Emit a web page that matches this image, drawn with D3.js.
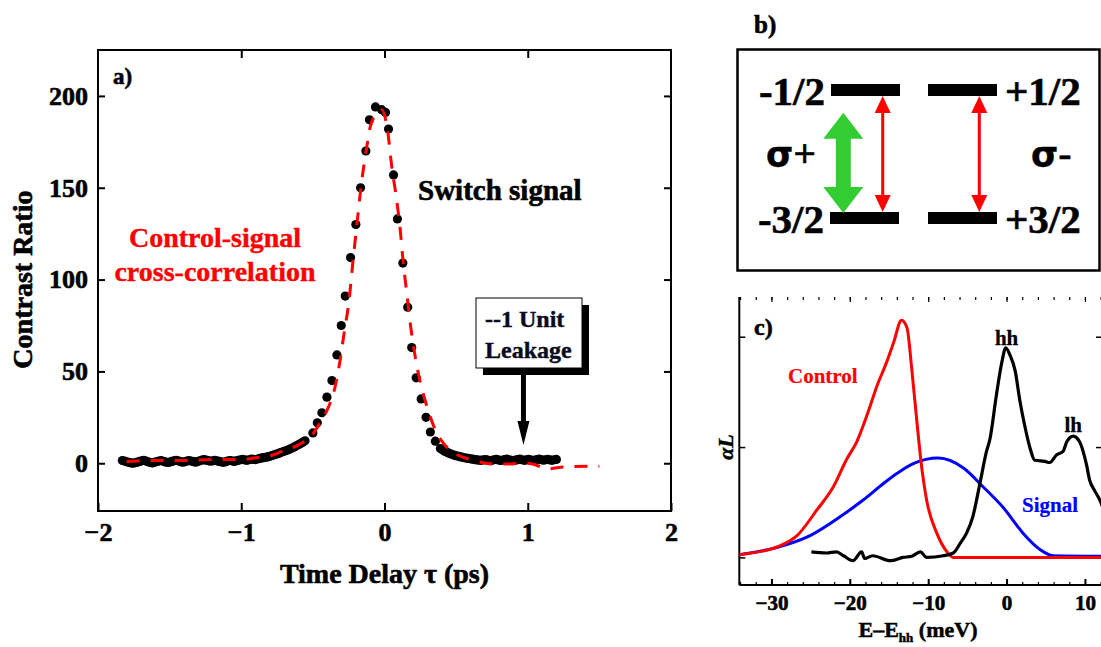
<!DOCTYPE html>
<html>
<head>
<meta charset="utf-8">
<script src="https://cdn.jsdelivr.net/npm/d3@7"></script>
<style>
body { margin: 0; background: #fff; }
svg text { font-family: "Liberation Serif", "Times New Roman", serif; font-weight: bold; }
</style>
</head>
<body>
<div id="chart"></div>
<script>
// ---- Panel a: switch signal (dots) and control-signal cross-correlation (dashed)
// dense baseline before the peak, sampled every 0.015 ps from -1.83 ps
const leftStart = -1.83, leftStep = 0.015;
const leftRatio = [
  1.5,1.2,0.8,0.5,0.2,0,0.3,0.6,1,1.3,
  1.6,1.2,0.8,0.4,0.2,0.5,0.9,1.2,1.5,1.1,
  0.7,0.4,0.6,1,1.3,1.6,1.3,0.9,0.6,0.8,
  1.2,1.5,1.2,0.9,0.6,0.9,1.3,1.7,2,1.7,
  1.4,1.1,1.3,1.6,1.3,1,0.7,0.5,0.8,1.2,
  1.5,1.3,1,1.3,1.6,1.9,2.1,1.8,1.6,1.9,
  2.2,2.1,2,2.3,2.6,2.9,3.1,3.3,3.6,3.9,
  4.3,4.7,5.1,5.5,6,6.4,6.8,7.2,7.7,8.3,
  8.9,9.5,10.1,10.8,11.5,12.2
];
// separate dots around the peak
const peakDelay = [-0.50,-0.469,-0.437,-0.402,-0.367,-0.332,-0.302,-0.274,-0.237,-0.20,-0.167,-0.13,-0.105,-0.063,-0.02,0.007,0.028,0.063,0.09,0.128,
  0.162,0.19,0.221,0.256,0.29,0.32,0.355];
const peakRatio = [16.5,22,27.5,36,45,59,75,91,112,130,150,170,187,194,192.5,191,182,157,133,109,
  85,63,46.5,35,25,17,12];
// dense baseline after the peak, every 0.015 ps from 0.39 ps
const rightStart = 0.39, rightStep = 0.015;
const rightRatio = [
  8,7.3,6.6,6,5.5,5,4.6,4.2,3.9,3.6,
  3.3,3,2.8,2.6,2.4,2.2,2,1.8,1.7,1.6,
  1.8,2,1.7,1.4,1.6,1.9,2.1,1.8,1.5,1.7,
  2,2.2,1.9,1.6,1.4,1.7,2,2.2,1.9,1.6,
  1.8,2.1,1.8,1.5,1.7,2,2.2,1.9,1.7,1.9,
  2.1,1.8,1.6,1.9,2.1
];
const fitDelay = [-1.8,-1.6,-1.4,-1.2,-1.0,-0.9,-0.8,-0.7,-0.6,-0.5,-0.45,-0.4,-0.35,-0.31,-0.28,-0.25,-0.22,-0.19,-0.16,-0.13,
  -0.10,-0.06,-0.02,0.02,0.05,0.08,0.11,0.13,0.155,0.18,0.21,0.25,0.3,0.35,0.4,0.5,0.6,0.8,1.0,1.15,1.25,1.5];
const fitRatio = [1,1.5,1.5,2,2,3,4,7,10,16,22,29,40,56,72,87,110,132,153,169,
  183,190,192.5,182,162,146,127,110,93,76,60,44,30,19,12,5,2,-0.5,0,-3,-2,-1.6];
const delayTicks = [-2, -1, 0, 1, 2];
const ratioTicks = [0, 50, 100, 150, 200];

// ---- Panel c: absorption and pulse spectra
const ctrlE = [-34.1,-29.1,-26.7,-24.2,-22.1,-20.4,-19.1,-17.8,-16.5,-15.3,-14.4,-13.4,-12.7,-12.1,-11.4,-10.8,-10.2,-8.9,-7.6,-6.8,0,12.2];
const ctrlA = [0.025,0.1,0.2,0.43,0.64,0.89,1.05,1.29,1.56,1.77,1.95,2.15,2.08,1.71,1.2,0.8,0.52,0.22,0.05,0,0,0];
const sigE = [-34.1,-28.8,-25,-21.2,-18.3,-15.7,-14,-11.9,-8.7,-5.5,-3,-0.4,2.1,4.3,6,12.2];
const sigA = [0.025,0.1,0.2,0.37,0.52,0.67,0.76,0.85,0.9,0.81,0.64,0.45,0.22,0.07,0.015,0.01];
const absE = [-24.9,-23,-21.7,-20.8,-19.6,-18.5,-18.1,-17.1,-14.8,-13.2,-12.1,-11,-10.2,-8.1,-6.8,-5.9,-5.1,-4.3,-3.4,-2.6,
  -2.1,-1.3,-0.6,-0.1,0.4,1.1,1.7,2.3,3,3.6,4.9,5.5,6.4,7.2,7.7,8.5,9.3,10.2,10.6,11.2,11.9,12.3];
const absA = [0.05,0.04,0.05,0.015,-0.03,0.05,-0.01,0.015,-0.03,0,0.01,0.05,0,0.015,0.04,0.13,0.22,0.37,0.67,0.95,
  1.08,1.47,1.77,1.9,1.84,1.69,1.42,1.2,0.99,0.88,0.87,0.86,0.93,0.96,1.05,1.1,1.05,0.84,0.7,0.61,0.52,0.45];
const energyTicks = [-30, -20, -10, 0, 10];
const energyMinor = d3.range(-34, 13, 2);
const absTicks = [0, 1, 2];

const svg = d3.select("#chart").append("svg")
  .attr("width", 1101).attr("height", 647)
  .style("background", "#fff");

// heavier look for the bitmap-like bold serif text
const heavy = (sel, color = "#000", w = 0.6) => sel.attr("fill", color).attr("stroke", color).attr("stroke-width", w);

// ================= Panel a =================
const xA = d3.scaleLinear().domain([-2, 2]).range([98, 671]);
const yA = d3.scaleLinear().domain([-26, 225]).range([511, 50]);

svg.append("rect")
  .attr("x", xA(-2)).attr("y", yA(225))
  .attr("width", xA(2) - xA(-2)).attr("height", yA(-26) - yA(225))
  .attr("fill", "none").attr("stroke", "#000").attr("stroke-width", 2);

const styleAxis = (g, size) => {
  g.select(".domain").remove();
  g.attr("font-family", null).attr("font-size", size);
  g.selectAll("line").attr("stroke", "#000").attr("stroke-width", 2);
  g.selectAll("text").call(heavy);
};

svg.append("g").attr("transform", `translate(${xA(-2)},0)`)
  .call(d3.axisLeft(yA).tickValues(ratioTicks).tickSizeInner(-7).tickSizeOuter(0).tickPadding(10))
  .call(g => styleAxis(g, 26));
svg.append("g").attr("transform", `translate(${xA(2)},0)`)
  .call(d3.axisRight(yA).tickValues(ratioTicks).tickSizeInner(-7).tickSizeOuter(0).tickFormat(""))
  .call(g => styleAxis(g, 26));
svg.append("g").attr("transform", `translate(0,${yA(-26)})`)
  .call(d3.axisBottom(xA).tickValues(delayTicks).tickSizeInner(-8).tickSizeOuter(0).tickPadding(12).tickFormat(d3.format("d")))
  .call(g => styleAxis(g, 26));
svg.append("g").attr("transform", `translate(0,${yA(225)})`)
  .call(d3.axisTop(xA).tickValues([-1, 0, 1]).tickSizeInner(-8).tickSizeOuter(0).tickFormat(""))
  .call(g => styleAxis(g, 26));

svg.append("text").attr("x", xA(0)).attr("y", 583).attr("text-anchor", "middle")
  .attr("font-size", 28).text("Time Delay τ (ps)").call(heavy);
svg.append("text").attr("transform", `translate(32,${yA(100)}) rotate(-90)`).attr("text-anchor", "middle")
  .attr("font-size", 28).text("Contrast Ratio").call(heavy);
svg.append("text").attr("x", 113).attr("y", 84).attr("font-size", 23).text("a)").call(heavy);

// data dots
const dots = [
  ...leftRatio.map((v, i) => [leftStart + i * leftStep, v]),
  ...peakDelay.map((d, i) => [d, peakRatio[i]]),
  ...rightRatio.map((v, i) => [rightStart + i * rightStep, v])
];
svg.append("g").selectAll("circle").data(dots).join("circle")
  .attr("cx", d => xA(d[0])).attr("cy", d => yA(d[1])).attr("r", 4.6).attr("fill", "#000");

// dashed fit
const fit = fitDelay.map((d, i) => [d, fitRatio[i]]);
svg.append("path").datum(fit)
  .attr("d", d3.line().x(d => xA(d[0])).y(d => yA(d[1])).curve(d3.curveMonotoneX))
  .attr("fill", "none").attr("stroke", "#ff0000").attr("stroke-width", 3)
  .attr("stroke-dasharray", "13,11");

svg.append("text").attr("x", 418).attr("y", 200).attr("font-size", 29).text("Switch signal").call(heavy);
svg.append("text").attr("x", 215).attr("y", 247).attr("text-anchor", "middle")
  .attr("font-size", 28).text("Control-signal").call(heavy, "#ff0000", 0.4);
svg.append("text").attr("x", 215).attr("y", 281).attr("text-anchor", "middle")
  .attr("font-size", 28).text("cross-correlation").call(heavy, "#ff0000", 0.4);

// leakage callout
const boxX = 476, boxY = 298, boxW = 106, boxH = 70;
svg.append("rect").attr("x", boxX + 7).attr("y", boxY + 7).attr("width", boxW).attr("height", boxH).attr("fill", "#000");
svg.append("rect").attr("x", boxX).attr("y", boxY).attr("width", boxW).attr("height", boxH)
  .attr("fill", "#fff").attr("stroke", "#000").attr("stroke-width", 1);
svg.append("text").attr("x", boxX + 9).attr("y", 327).attr("font-size", 24).text("--1 Unit").call(heavy, "#0a0a1e", 0.4);
svg.append("text").attr("x", boxX + 9).attr("y", 358).attr("font-size", 24).text("Leakage").call(heavy, "#0a0a1e", 0.4);
const arrX = xA(0.97);
svg.append("line").attr("x1", arrX).attr("x2", arrX).attr("y1", boxY + boxH + 7).attr("y2", yA(20))
  .attr("stroke", "#000").attr("stroke-width", 5);
svg.append("path")
  .attr("d", `M${arrX - 6},${yA(23)} L${arrX + 6},${yA(23)} L${arrX},${yA(10)} Z`)
  .attr("fill", "#000");

// ================= Panel b =================
const gb = svg.append("g");
gb.append("text").attr("x", 754).attr("y", 33).attr("font-size", 25).text("b)").call(heavy);
gb.append("rect").attr("x", 737.5).attr("y", 49.5).attr("width", 362).attr("height", 221)
  .attr("fill", "none").attr("stroke", "#000").attr("stroke-width", 2.5);

const levels = [
  { x: 831, y: 90, w: 69, label: "-1/2", side: "left" },
  { x: 928, y: 90, w: 69, label: "+1/2", side: "right" },
  { x: 830, y: 218, w: 69, label: "-3/2", side: "left" },
  { x: 928, y: 218, w: 69, label: "+3/2", side: "right" }
];
levels.forEach(l => {
  gb.append("rect").attr("x", l.x).attr("y", l.y - 6).attr("width", l.w).attr("height", 12).attr("fill", "#000");
  gb.append("text")
    .attr("x", l.side === "left" ? l.x - 6 : l.x + l.w + 8)
    .attr("y", l.y + 15)
    .attr("text-anchor", l.side === "left" ? "end" : "start")
    .attr("font-size", 41).text(l.label).call(heavy);
});

// green thick double arrow
const gx = 843.3, gTop = 112.7, gBot = 213;
gb.append("path")
  .attr("d", `M${gx},${gTop} L${gx + 20},${gTop + 26} L${gx + 7.5},${gTop + 26} L${gx + 7.5},${gBot - 26}
    L${gx + 20},${gBot - 26} L${gx},${gBot} L${gx - 20},${gBot - 26} L${gx - 7.5},${gBot - 26}
    L${gx - 7.5},${gTop + 26} L${gx - 20},${gTop + 26} Z`)
  .attr("fill", "#33cc33");

// red thin double arrows
[882.7, 979.3].forEach(rx => {
  gb.append("line").attr("x1", rx).attr("x2", rx).attr("y1", 110).attr("y2", 198)
    .attr("stroke", "#ff0000").attr("stroke-width", 3);
  gb.append("path").attr("d", `M${rx},96 L${rx + 8},113 L${rx - 8},113 Z`).attr("fill", "#ff0000");
  gb.append("path").attr("d", `M${rx},212 L${rx + 8},195 L${rx - 8},195 Z`).attr("fill", "#ff0000");
});

gb.append("text").attr("x", 766).attr("y", 167).attr("font-size", 40)
  .html('<tspan font-family="DejaVu Sans" font-size="35">σ</tspan>+').call(heavy, "#000", 0.4);
gb.append("text").attr("x", 1031).attr("y", 167).attr("font-size", 40)
  .html('<tspan font-family="DejaVu Sans" font-size="35">σ</tspan>-').call(heavy, "#000", 0.4);

// ================= Panel c =================
const xC = d3.scaleLinear().domain([-34.1, 12.05]).range([739.3, 1101]);
const yC = d3.scaleLinear().domain([-0.25, 2.36]).range([585, 297]);

svg.append("defs").append("clipPath").attr("id", "clipC")
  .append("rect").attr("x", xC(-34.1)).attr("y", yC(2.36)).attr("width", xC(12.05) - xC(-34.1)).attr("height", yC(-0.25) - yC(2.36));

svg.append("line").attr("x1", xC(-34.1)).attr("x2", xC(-34.1)).attr("y1", yC(2.36)).attr("y2", yC(-0.25))
  .attr("stroke", "#000").attr("stroke-width", 2);
svg.append("line").attr("x1", xC(-34.1)).attr("x2", xC(12.05)).attr("y1", yC(-0.25)).attr("y2", yC(-0.25))
  .attr("stroke", "#000").attr("stroke-width", 2);

svg.append("g").attr("transform", `translate(0,${yC(-0.25)})`)
  .call(d3.axisBottom(xC).tickValues(energyTicks).tickSizeInner(-6).tickSizeOuter(0).tickPadding(10).tickFormat(d3.format("d")))
  .call(g => styleAxis(g, 21));
svg.append("g").attr("transform", `translate(0,${yC(-0.25)})`)
  .call(d3.axisBottom(xC).tickValues(energyMinor).tickSizeInner(-3).tickSizeOuter(0).tickFormat(""))
  .call(g => styleAxis(g, 21))
  .call(g => g.selectAll("line").attr("stroke-width", 1.2));
svg.append("g").attr("transform", `translate(0,${yC(2.36)})`)
  .call(d3.axisTop(xC).tickValues(energyMinor).tickSizeInner(-3).tickSizeOuter(0).tickFormat(""))
  .call(g => styleAxis(g, 21))
  .call(g => g.selectAll("line").attr("stroke-width", 1.2));
svg.append("g").attr("transform", `translate(0,${yC(2.36)})`)
  .call(d3.axisTop(xC).tickValues(energyTicks).tickSizeInner(-5).tickSizeOuter(0).tickFormat(""))
  .call(g => styleAxis(g, 21))
  .call(g => g.selectAll("line").attr("stroke-width", 1.2));
svg.append("g").attr("transform", `translate(${xC(-34.1)},0)`)
  .call(d3.axisLeft(yC).tickValues(absTicks).tickSizeInner(-6).tickSizeOuter(0).tickFormat(""))
  .call(g => styleAxis(g, 21))
  .call(g => g.selectAll("line").attr("stroke-width", 1.5));
svg.append("g").attr("transform", `translate(${xC(12.05)},0)`)
  .call(d3.axisRight(yC).tickValues(absTicks).tickSizeInner(-5).tickSizeOuter(0).tickFormat(""))
  .call(g => styleAxis(g, 21))
  .call(g => g.selectAll("line").attr("stroke-width", 1.5));

const lineC = d3.line().x(d => xC(d[0])).y(d => yC(d[1])).curve(d3.curveMonotoneX);
const gc = svg.append("g").attr("clip-path", "url(#clipC)");
gc.append("path").datum(sigE.map((e, i) => [e, sigA[i]])).attr("d", lineC)
  .attr("fill", "none").attr("stroke", "#0000ff").attr("stroke-width", 3);
gc.append("path").datum(ctrlE.map((e, i) => [e, ctrlA[i]])).attr("d", lineC)
  .attr("fill", "none").attr("stroke", "#ff0000").attr("stroke-width", 3);
gc.append("path").datum(absE.map((e, i) => [e, absA[i]])).attr("d", lineC)
  .attr("fill", "none").attr("stroke", "#000").attr("stroke-width", 3.2);

svg.append("text").attr("x", 754).attr("y", 335).attr("font-size", 24).text("c)").call(heavy);
svg.append("text").attr("x", 788).attr("y", 383).attr("font-size", 21).text("Control").call(heavy, "#ff0000", 0.2);
svg.append("text").attr("x", 1022).attr("y", 512).attr("font-size", 21).text("Signal").call(heavy, "#0000ff", 0.2);
svg.append("text").attr("x", xC(0)).attr("y", 345).attr("text-anchor", "middle").attr("font-size", 21).text("hh").call(heavy, "#000", 0.3);
svg.append("text").attr("x", xC(8.5)).attr("y", 432).attr("text-anchor", "middle").attr("font-size", 21).text("lh").call(heavy, "#000", 0.3);
svg.append("text").attr("x", xC(-11.3)).attr("y", 637).attr("text-anchor", "middle").attr("font-size", 22)
  .html('E–E<tspan font-size="13" dy="5">hh</tspan><tspan dy="-5"> (meV)</tspan>').call(heavy, "#000", 0.5);
svg.append("text").attr("transform", `translate(733,${yC(1.0)}) rotate(-90)`).attr("text-anchor", "middle")
  .attr("font-size", 22).attr("font-style", "italic").text("αL").call(heavy, "#000", 0.4);
</script>
</body>
</html>
